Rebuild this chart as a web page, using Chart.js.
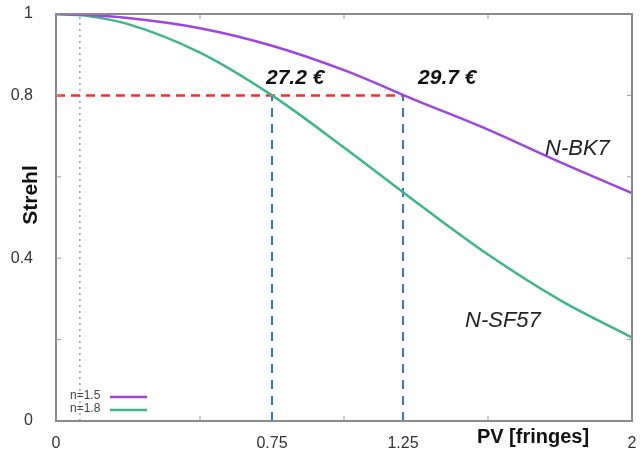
<!DOCTYPE html>
<html>
<head>
<meta charset="utf-8">
<script src="https://cdn.jsdelivr.net/npm/chart.js@4.4.1/dist/chart.umd.min.js"></script>
<style>
  html, body { margin: 0; padding: 0; background: #fff; }
  #wrap { width: 644px; height: 452px; }
</style>
</head>
<body>
<div id="wrap"><canvas id="strehlChart" width="644" height="452"></canvas></div>
<script>
// values
const pvValues   = [0, 0.1, 0.25, 0.5, 0.75, 1.0, 1.25, 1.5, 1.75, 2.0];
const bk7Strehl  = [1, 0.998, 0.99, 0.965, 0.922, 0.862, 0.788, 0.716, 0.636, 0.56];
const sf57Strehl = [1, 0.996, 0.975, 0.905, 0.8, 0.672, 0.538, 0.409, 0.297, 0.205];

const seriesNames  = ['n=1.5', 'n=1.8'];
const glassNames   = ['N-BK7', 'N-SF57'];
const strehlTarget = 0.8;
const pvAtTarget   = [0.75, 1.205];   // where the curves cross 0.8
const costLabels   = ['27.2 €', '29.7 €'];
const pvMarker     = 0.083;           // light dotted line near the left

const xTickValues = [0, 0.5, 0.75, 1, 1.205, 1.5, 2];
const xTickLabels = ['0', '', '0.75', '', '1.25', '', '2'];
const yTickValues = [0, 0.2, 0.4, 0.6, 0.8, 1];
const yTickLabels = ['0', '', '0.4', '', '0.8', '1'];

const toPoints = (xs, ys) => xs.map((x, i) => ({ x: x, y: ys[i] }));

const purple = '#9d45e3';
const green = '#3fb58b';
const fontFam = '"Liberation Sans", Arial, sans-serif';

// extra drawing: box, tick marks inside the box, legend, text labels
const extras = {
    id: 'extras',
    afterDraw(chart) {
        const c = chart.ctx;
        const xs = chart.scales.x, ys = chart.scales.y;
        const a = chart.chartArea;
        c.save();

        // frame
        c.strokeStyle = '#8a8a8a';
        c.lineWidth = 2;
        c.strokeRect(a.left, a.top, a.right - a.left, a.bottom - a.top);

        // small inward ticks
        c.strokeStyle = '#999';
        c.lineWidth = 1;
        [0.5, 1, 1.5].forEach(v => {
            const px = xs.getPixelForValue(v);
            c.beginPath();
            c.moveTo(px, a.bottom); c.lineTo(px, a.bottom - 5);
            c.moveTo(px, a.top); c.lineTo(px, a.top + 5);
            c.stroke();
        });
        [0.2, 0.4, 0.6, 0.8].forEach(v => {
            const py = ys.getPixelForValue(v);
            c.beginPath();
            c.moveTo(a.left, py); c.lineTo(a.left + 5, py);
            c.moveTo(a.right, py); c.lineTo(a.right - 5, py);
            c.stroke();
        });

        // cost labels over the crossing points
        c.fillStyle = '#111';
        c.font = 'italic bold 21px ' + fontFam;
        c.textBaseline = 'middle';
        c.textAlign = 'left';
        const ty = ys.getPixelForValue(strehlTarget) - 17;
        c.fillText(costLabels[0], xs.getPixelForValue(pvAtTarget[0]) - 6, ty);
        c.fillText(costLabels[1], xs.getPixelForValue(pvAtTarget[1]) + 15, ty);

        // glass names
        c.font = 'italic 22px ' + fontFam;
        c.fillStyle = '#222';
        c.fillText(glassNames[0], 545, 149);
        c.fillText(glassNames[1], 465, 321);

        // x axis title sitting on the tick label row
        c.font = 'bold 20px ' + fontFam;
        c.fillStyle = '#111';
        c.textAlign = 'center';
        c.fillText('PV [fringes]', 533, 437);

        // y axis title
        c.save();
        c.translate(31, 195);
        c.rotate(-Math.PI / 2);
        c.font = 'bold 21px ' + fontFam;
        c.fillText('Strehl', 0, 0);
        c.restore();

        // small legend bottom left
        c.font = '12px ' + fontFam;
        c.fillStyle = '#444';
        c.textAlign = 'left';
        const colors = [purple, green];
        seriesNames.forEach((name, i) => {
            const y = 396 + i * 13;
            c.fillText(name, 70, y);
            c.strokeStyle = colors[i];
            c.lineWidth = 2.5;
            c.beginPath();
            c.moveTo(110, y + 1); c.lineTo(147, y + 1);
            c.stroke();
        });
        c.restore();
    }
};

const ctx = document.getElementById('strehlChart').getContext('2d');
const strehlChart = new Chart(ctx, {
    type: 'line',
    data: {
        datasets: [
            {
                label: seriesNames[0],
                data: toPoints(pvValues, bk7Strehl),
                borderColor: purple,
                borderWidth: 2.5,
                pointRadius: 0,
                cubicInterpolationMode: 'monotone'
            },
            {
                label: seriesNames[1],
                data: toPoints(pvValues, sf57Strehl),
                borderColor: green,
                borderWidth: 2.5,
                pointRadius: 0,
                cubicInterpolationMode: 'monotone'
            },
            {
                label: 'target',
                data: [{ x: 0, y: strehlTarget }, { x: pvAtTarget[1], y: strehlTarget }],
                borderColor: '#ff2a2a',
                borderWidth: 2.5,
                borderDash: [9, 6],
                pointRadius: 0
            },
            {
                label: 'pv1',
                data: [{ x: pvAtTarget[0], y: 0 }, { x: pvAtTarget[0], y: strehlTarget }],
                borderColor: '#3b6fd4',
                borderWidth: 2,
                borderDash: [9, 7],
                pointRadius: 0
            },
            {
                label: 'pv2',
                data: [{ x: pvAtTarget[1], y: 0 }, { x: pvAtTarget[1], y: strehlTarget }],
                borderColor: '#3b6fd4',
                borderWidth: 2,
                borderDash: [9, 7],
                pointRadius: 0
            },
            {
                label: 'marker',
                data: [{ x: pvMarker, y: 0 }, { x: pvMarker, y: 1 }],
                borderColor: '#7fa3e3',
                borderWidth: 1.5,
                borderDash: [2, 4],
                pointRadius: 0
            }
        ]
    },
    options: {
        responsive: false,
        animation: false,
        layout: { padding: { top: 14, right: 12, left: 0, bottom: 0 } },
        plugins: { legend: { display: false }, tooltip: { enabled: false } },
        scales: {
            x: {
                type: 'linear',
                min: 0,
                max: 2,
                afterBuildTicks: s => { s.ticks = xTickValues.map(v => ({ value: v })); },
                afterFit: s => { s.height = 31; s.paddingLeft = 0; s.paddingRight = 0; },
                grid: { display: false },
                border: { color: '#8a8a8a', width: 2 },
                ticks: {
                    autoSkip: false,
                    maxRotation: 0,
                    padding: 5,
                    color: '#333',
                    font: { family: fontFam, size: 16 },
                    callback: (v, i) => xTickLabels[i]
                }
            },
            y: {
                min: 0,
                max: 1,
                afterBuildTicks: s => { s.ticks = yTickValues.map(v => ({ value: v })); },
                afterFit: s => { s.width = 56; s.paddingTop = 0; s.paddingBottom = 0; },
                grid: { display: false },
                border: { color: '#8a8a8a', width: 2 },
                ticks: {
                    autoSkip: false,
                    padding: 15,
                    color: '#333',
                    font: { family: fontFam, size: 16 },
                    callback: (v, i) => yTickLabels[i]
                }
            }
        }
    },
    plugins: [extras]
});
</script>
</body>
</html>
